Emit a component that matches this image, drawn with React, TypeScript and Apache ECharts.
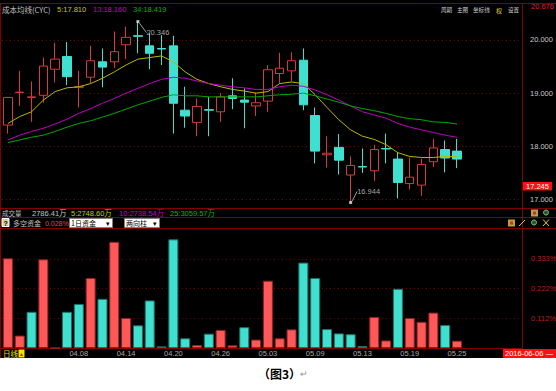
import React, { useEffect, useRef } from 'react';
import * as echarts from 'echarts';

const dates = ['03.30','03.31','04.01','04.05','04.06','04.07','04.08','04.11','04.12','04.13','04.14','04.15','04.18','04.19','04.20','04.21','04.22','04.25','04.26','04.27','04.28','04.29','05.03','05.04','05.05','05.06','05.09','05.10','05.11','05.12','05.13','05.16','05.17','05.18','05.19','05.20','05.23','05.24','05.25'];
const emptySlots = 5;
const tickLabels = ['04.08','04.14','04.20','04.26','05.03','05.09','05.13','05.19','05.25'];

const opens  = [18.40,19.01,18.92,18.96,19.45,19.69,19.11,19.30,19.59,19.59,19.91,20.08,19.89,19.84,19.89,18.68,18.45,18.69,18.65,18.95,18.87,18.76,18.85,19.37,19.42,19.62,18.58,17.84,17.98,17.46,17.62,17.54,17.96,17.76,17.30,17.27,17.71,17.94,17.91];
const closes = [18.92,19.02,18.93,19.51,19.64,19.31,19.12,19.61,19.49,19.78,20.05,20.07,19.75,19.83,18.81,18.57,18.75,18.68,18.93,18.90,18.83,18.82,19.44,19.47,19.61,18.78,17.91,17.87,17.74,17.64,17.61,17.94,17.95,17.32,17.42,17.66,17.97,17.78,17.76];
const lows   = [18.24,18.76,18.46,18.82,19.20,19.15,18.73,19.18,19.11,19.47,19.64,19.75,19.45,19.53,18.24,18.35,18.19,18.19,18.46,18.70,18.34,18.57,18.65,19.18,19.22,18.68,17.68,17.60,17.47,16.944,17.50,17.35,17.68,17.02,17.19,17.07,17.61,17.51,17.59];
const highs  = [18.93,19.42,19.22,19.67,19.95,19.96,19.42,19.89,19.84,20.16,20.25,20.346,20.13,20.09,20.08,19.12,18.90,18.93,19.00,19.28,19.09,19.01,19.53,19.76,19.77,19.84,18.73,18.19,18.23,17.81,17.96,18.03,18.24,17.89,17.79,17.77,18.14,18.11,18.14];

const cyc5  = [18.43,18.56,18.65,18.87,19.03,19.10,19.12,19.18,19.28,19.40,19.53,19.64,19.67,19.70,19.59,19.40,19.26,19.18,19.12,19.07,19.04,19.00,19.03,19.18,19.21,19.18,18.97,18.73,18.50,18.31,18.19,18.13,18.03,17.88,17.81,17.79,17.79,17.81,17.81];
const cyc13 = [18.12,18.21,18.28,18.34,18.42,18.51,18.62,18.71,18.81,18.90,19.00,19.09,19.18,19.26,19.30,19.28,19.23,19.18,19.15,19.12,19.10,19.07,19.07,19.12,19.15,19.13,19.06,18.97,18.87,18.76,18.65,18.59,18.53,18.43,18.36,18.31,18.26,18.21,18.17];
const cyc34 = [18.07,18.12,18.17,18.21,18.28,18.36,18.43,18.48,18.55,18.62,18.70,18.78,18.85,18.92,18.97,18.95,18.95,18.93,18.93,18.93,18.93,18.93,18.95,18.97,18.98,19.00,18.95,18.89,18.83,18.76,18.71,18.67,18.62,18.56,18.52,18.50,18.46,18.45,18.42];

const flowValues = [0.332,0.046,0.134,0.328,0,0.134,0.163,0.259,0.182,0.393,0.111,0.084,0.176,0.006,0.402,0.036,0.011,0.053,0.067,0.010,0.077,0.031,0.249,0.036,0.069,0.316,0.259,0.070,0.054,0.051,0.007,0.115,0.028,0.219,0.111,0.097,0.131,0.085,0.027];
const flowSides  = [1,1,-1,1,1,-1,-1,1,-1,1,1,-1,-1,-1,-1,-1,1,-1,1,1,-1,1,1,1,1,-1,-1,-1,-1,-1,-1,1,1,-1,1,1,1,-1,1];

const priceTicks = [17, 18, 19, 20];
const priceTickLabels = ['17.000', '18.000', '19.000', '20.000'];
const flowTicks = [0.112, 0.222, 0.333];
const flowTickLabels = ['0.112%', '0.222%', '0.333%'];
const lastPrice = 17.245;
const lastPriceLabel = '17.245';
const extremes = [{ index: 11, value: 20.346 }, { index: 29, value: 16.944 }];

const RED = '#d23c3c';
const CYAN = '#40e0d0';
const GRID = '#800000';
const DOT = '#780000';
const FONT = '"Liberation Sans", "Noto Sans CJK SC", sans-serif';
const CJK = '"Noto Sans CJK SC", sans-serif';

const T = (x: number, y: number, text: string, fill: string, size = 7.5, extra: any = {}) => ({
  type: 'text', x, y, silent: true,
  style: { text, fill, fontSize: size, fontFamily: FONT, textVerticalAlign: 'middle', ...extra },
});
const L = (x1: number, y1: number, x2: number, y2: number, stroke = GRID) => ({
  type: 'line', silent: true, shape: { x1, y1, x2, y2 }, style: { stroke, lineWidth: 1 },
});
const R = (x: number, y: number, width: number, height: number, fill: string, stroke?: string) => ({
  type: 'rect', silent: true, shape: { x, y, width, height }, style: { fill, stroke: stroke || null, lineWidth: 1 },
});

export default function App() {
  const ref = useRef<HTMLDivElement>(null);
  useEffect(() => {
    document.body.style.margin = '0';
    if (!ref.current) return;
    const chart = echarts.init(ref.current, null, { renderer: 'svg' });
    const cats = [...dates, ...new Array(emptySlots).fill('')];
    const candles = dates.map((_, i) => [opens[i], closes[i], lows[i], highs[i]]);

    const graphics: any[] = [
      R(0, 358, 556, 33, '#ffffff'),
      L(0, 3.5, 556, 3.5),
      L(0.5, 3.5, 0.5, 358),
      L(522.5, 3.5, 522.5, 358),
      L(0, 208.5, 556, 208.5),
      L(0, 217.5, 556, 217.5),
      L(0, 228.5, 556, 228.5),
      L(0, 348.5, 522, 348.5),
      // header of main chart
      T(2, 9, '成本均线(CYC)', '#c0c0c0', 7.5, { fontFamily: CJK }),
      T(57, 9, '5:17.810', '#c8c800'),
      T(93, 9, '13:18.160', '#c000c0'),
      T(133, 9, '34:18.419', '#00b400'),
      T(441, 10, '周期', '#d0d0d0', 5.6, { fontFamily: CJK }),
      T(457, 10, '主图', '#d0d0d0', 5.6, { fontFamily: CJK }),
      T(473, 10, '坐标线', '#d0d0d0', 5.6, { fontFamily: CJK }),
      T(496, 10, '权', '#e0d000', 6, { fontFamily: CJK }),
      T(508, 10, '设置', '#d0d0d0', 5.6, { fontFamily: CJK }),
      T(531, 6.5, '20.676', '#e02020'),
      // volume header
      T(2, 213, '成交量', '#c0c0c0', 6.5, { fontFamily: CJK }),
      T(32, 213, '2786.41万', '#c0c0c0'),
      T(71, 213, '5:2748.60万', '#c8c800'),
      T(119, 213, '10:2738.54万', '#c000c0'),
      T(170, 213, '25:3059.57万', '#00b400'),
      R(2, 218.5, 7, 8, '#d8d090', '#ffffff'),
      T(3.5, 223, '?', '#000000', 7, { fontWeight: 'bold' }),
      T(13, 223, '多空资金', '#c0c0c0', 7, { fontFamily: CJK }),
      T(45, 223, '0.028%', '#e04040', 7),
      R(69.5, 218.5, 43, 9, '#ffffff', '#808080'),
      T(71, 223, '1日资金', '#000000', 7, { fontFamily: CJK }),
      T(106, 223, '▾', '#000000', 7),
      R(124.5, 218.5, 35, 9, '#ffffff', '#808080'),
      T(126, 223, '两向柱', '#000000', 7, { fontFamily: CJK }),
      T(153, 223, '▾', '#000000', 7),
      // small icons
      R(531, 209.5, 7, 7, '#b8a040'), R(533, 211.5, 3, 3, '#d03030'),
      { type: 'circle', silent: true, shape: { cx: 546, cy: 212.5, r: 2.5 }, style: { fill: '#305030', stroke: '#70d070' } },
      R(508, 219.5, 7, 7, '#b8a040'), R(510, 221.5, 3, 3, '#d03030'),
      L(519, 226, 525, 220, '#d8c840'),
      { type: 'circle', silent: true, shape: { cx: 534, cy: 222.5, r: 2.5 }, style: { fill: '#305030', stroke: '#70d070' } },
      L(543, 219.5, 549, 226, '#e0d020'), L(549, 219.5, 543, 226, '#e0d020'),
      // bottom row
      T(3, 353.5, '日线', '#e8e800', 7.5, { fontFamily: CJK }),
      R(18.5, 349.5, 6, 8, '#e8e800'),
      T(19, 353.5, '▲', '#d02020', 5),
      R(503, 349, 53, 9, '#ff1010'),
      T(505, 353.5, '2016-06-06', '#ffffff', 7.5),
      T(546, 353.5, '—', '#ffffff', 7),
      // caption
      T(258, 373, '（图3）', '#000000', 12, { fontFamily: CJK, fontWeight: 'bold' }),
      T(300, 373, '↵', '#909090', 9, { fontFamily: CJK }),
    ];

    chart.setOption({
      animation: false,
      backgroundColor: '#000000',
      textStyle: { fontFamily: FONT },
      graphic: { elements: graphics },
      grid: [
        { left: 2, width: 520, top: 4, height: 204 },
        { left: 2, width: 520, top: 228, height: 120 },
      ],
      xAxis: [
        { type: 'category', gridIndex: 0, data: cats, boundaryGap: true, show: false },
        {
          type: 'category', gridIndex: 1, data: cats, boundaryGap: true,
          axisLine: { show: false }, axisTick: { show: false }, splitLine: { show: false },
          axisLabel: {
            interval: 0, margin: 2, color: '#a8a8a8', fontSize: 7.5, fontFamily: FONT,
            formatter: (v: string) => (tickLabels.includes(v) ? v : ''),
          },
        },
      ],
      yAxis: [
        { type: 'value', gridIndex: 0, min: 16.84, max: 20.677, show: false, splitLine: { show: false } },
        { type: 'value', gridIndex: 1, min: 0, max: 0.444, show: false, splitLine: { show: false } },
      ],
      series: [
        {
          type: 'candlestick', xAxisIndex: 0, yAxisIndex: 0, data: candles, barWidth: 9,
          itemStyle: { color: '#000000', color0: CYAN, borderColor: RED, borderColor0: CYAN, borderWidth: 1 },
          markLine: {
            silent: true, symbol: ['none', 'none'], z: 1,
            lineStyle: { color: DOT, type: [1, 3], width: 1 },
            label: {
              position: 'end', distance: 8, color: '#c8c8c8', fontSize: 7.5, fontFamily: FONT,
            },
            data: [
              ...priceTicks.map((v, i) => ({ yAxis: v, label: { formatter: priceTickLabels[i] } })),
              {
                yAxis: lastPrice,
                lineStyle: { color: 'rgba(0,0,0,0)', width: 0 },
                label: { formatter: lastPriceLabel, distance: 1, backgroundColor: '#ff1010', color: '#ffffff', padding: [1, 3, 0, 3] },
              },
            ],
          },
        },
        { type: 'line', xAxisIndex: 0, yAxisIndex: 0, data: cyc5, symbol: 'none', lineStyle: { color: '#b8b800', width: 1 } },
        { type: 'line', xAxisIndex: 0, yAxisIndex: 0, data: cyc13, symbol: 'none', lineStyle: { color: '#c000c0', width: 1 } },
        { type: 'line', xAxisIndex: 0, yAxisIndex: 0, data: cyc34, symbol: 'none', lineStyle: { color: '#00a800', width: 1 } },
        {
          type: 'scatter', xAxisIndex: 0, yAxisIndex: 0,
          data: extremes.map((e) => [e.index, e.value]),
          symbol: 'rect', symbolSize: 3, itemStyle: { color: '#e8e8e8' },
          label: {
            show: true, position: 'right', distance: 0, color: '#d0d0d0', fontSize: 7.5, fontFamily: FONT,
            formatter: (p: any) => Number(p.value[1]).toFixed(3),
          },
          labelLine: { show: true, lineStyle: { color: '#a0a0a0', width: 1 } },
          labelLayout: (p: any) => (p.dataIndex === 0 ? { dx: 7, dy: 11 } : { dx: 5, dy: -11 }),
        },
        {
          type: 'bar', xAxisIndex: 1, yAxisIndex: 1, barWidth: 10,
          data: flowValues.map((v, i) => ({
            value: v,
            itemStyle: { color: flowSides[i] > 0 ? '#ff5858' : CYAN, borderColor: flowSides[i] > 0 ? '#902020' : '#207068', borderWidth: 1 },
          })),
          markLine: {
            silent: true, symbol: ['none', 'none'], z: 1,
            lineStyle: { color: DOT, type: [1, 3], width: 1 },
            label: {
              position: 'end', distance: 9, color: '#b82020', fontSize: 7.5, fontFamily: FONT,
            },
            data: flowTicks.map((v, i) => ({ yAxis: v, label: { formatter: flowTickLabels[i] } })),
          },
        },
      ],
    });
    return () => chart.dispose();
  }, []);
  return <div ref={ref} style={{ width: 556, height: 391 }} />;
}
